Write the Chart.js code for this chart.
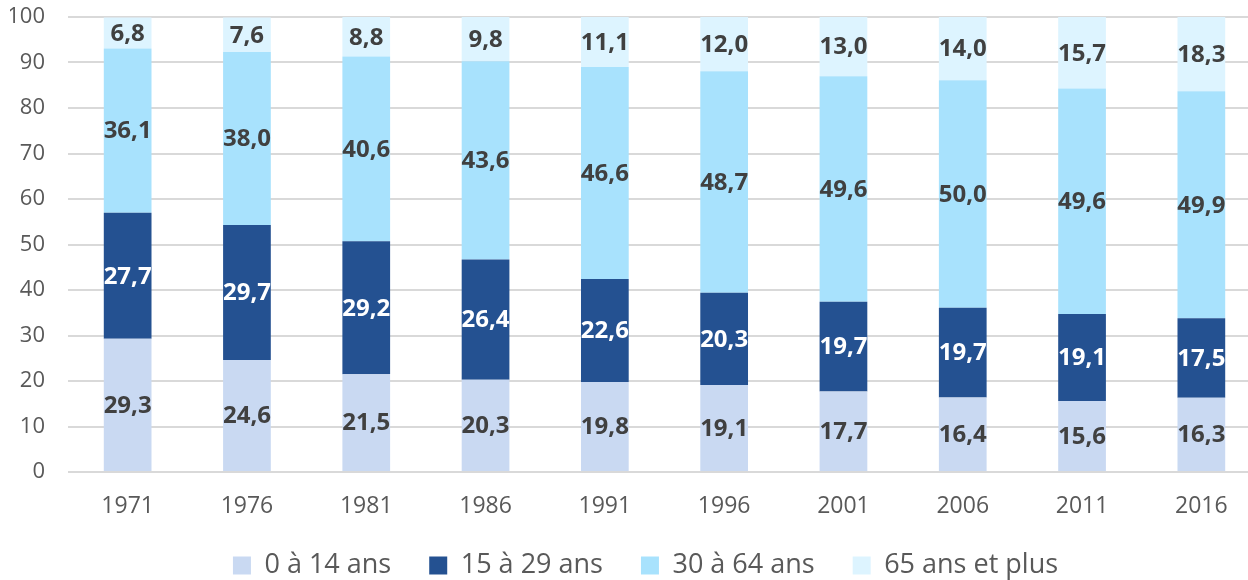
<!DOCTYPE html>
<html>
<head>
<meta charset="utf-8">
<script src="https://cdn.jsdelivr.net/npm/chart.js@4"></script>
<style>
  html, body { margin: 0; padding: 0; background: #fff; overflow: hidden; }
  #wrap { position: relative; width: 1291px; height: 580px; }
</style>
</head>
<body>
<div id="wrap"><canvas id="ageChart"></canvas></div>
<script>
// Répartition de la population par groupe d'âge (%)
const years = ['1971', '1976', '1981', '1986', '1991', '1996', '2001', '2006', '2011', '2016'];
const age0to14 = [29.3, 24.6, 21.5, 20.3, 19.8, 19.1, 17.7, 16.4, 15.6, 16.3];
const age15to29 = [27.7, 29.7, 29.2, 26.4, 22.6, 20.3, 19.7, 19.7, 19.1, 17.5];
const age30to64 = [36.1, 38.0, 40.6, 43.6, 46.6, 48.7, 49.6, 50.0, 49.6, 49.9];
const age65plus = [6.8, 7.6, 8.8, 9.8, 11.1, 12.0, 13.0, 14.0, 15.7, 18.3];
const yTicks = [0, 10, 20, 30, 40, 50, 60, 70, 80, 90, 100];

const FONT = "'Open Sans', 'Liberation Sans', sans-serif";

// étiquettes au centre de chaque segment + légende recentrée
const barLabels = {
    id: 'barLabels',
    afterLayout(chart) {
        const lg = chart.legend;
        if (lg) { lg.left += 10; lg.right += 10; }
    },
    afterDatasetsDraw(chart) {
        const ctx = chart.ctx;
        const area = chart.chartArea;
        ctx.save();
        ctx.font = 'bold 24px ' + FONT;
        ctx.textAlign = 'center';
        ctx.textBaseline = 'middle';
        chart.data.datasets.forEach((ds, i) => {
            const meta = chart.getDatasetMeta(i);
            meta.data.forEach((bar, j) => {
                const top = Math.max(bar.y, area.top);
                const base = Math.min(bar.base, area.bottom);
                ctx.fillStyle = ds.labelColor;
                ctx.fillText(ds.data[j].toFixed(1).replace('.', ','), bar.x, (top + base) / 2 + 1);
            });
        });
        ctx.restore();
    }
};

new Chart(document.getElementById('ageChart'), {
    type: 'bar',
    data: {
        labels: years,
        datasets: [
            { label: '0 à 14 ans', data: age0to14, backgroundColor: '#C9D9F2', labelColor: '#404040' },
            { label: '15 à 29 ans', data: age15to29, backgroundColor: '#245191', labelColor: '#FFFFFF' },
            { label: '30 à 64 ans', data: age30to64, backgroundColor: '#A8E2FD', labelColor: '#404040' },
            { label: '65 ans et plus', data: age65plus, backgroundColor: '#DDF4FF', labelColor: '#404040' }
        ]
    },
    options: {
        responsive: true,
        maintainAspectRatio: false,
        animation: false,
        categoryPercentage: 1,
        barPercentage: 0.4,
        layout: { padding: { left: 10, right: 30, top: 17, bottom: -9 } },
        scales: {
            x: {
                stacked: true,
                afterFit: axis => { axis.height = 42; },
                grid: { display: false, drawTicks: false },
                border: { display: false },
                ticks: { color: '#595959', font: { family: FONT, size: 23 }, padding: 21 }
            },
            y: {
                stacked: true,
                min: 0,
                max: 100,
                afterBuildTicks: axis => { axis.ticks = yTicks.map(v => ({ value: v })); },
                afterFit: axis => { axis.width = 58; axis.paddingTop = 0; axis.paddingBottom = 0; },
                grid: { color: '#D9D9D9', lineWidth: 2, drawTicks: false },
                border: { display: false },
                ticks: { color: '#595959', font: { family: FONT, size: 22 }, padding: 23 }
            }
        },
        plugins: {
            legend: {
                position: 'bottom',
                labels: {
                    color: '#595959',
                    font: { family: FONT, size: 27 },
                    boxWidth: 18,
                    boxHeight: 18,
                    padding: 38
                }
            },
            tooltip: { enabled: false }
        }
    },
    plugins: [barLabels]
});
</script>
</body>
</html>
